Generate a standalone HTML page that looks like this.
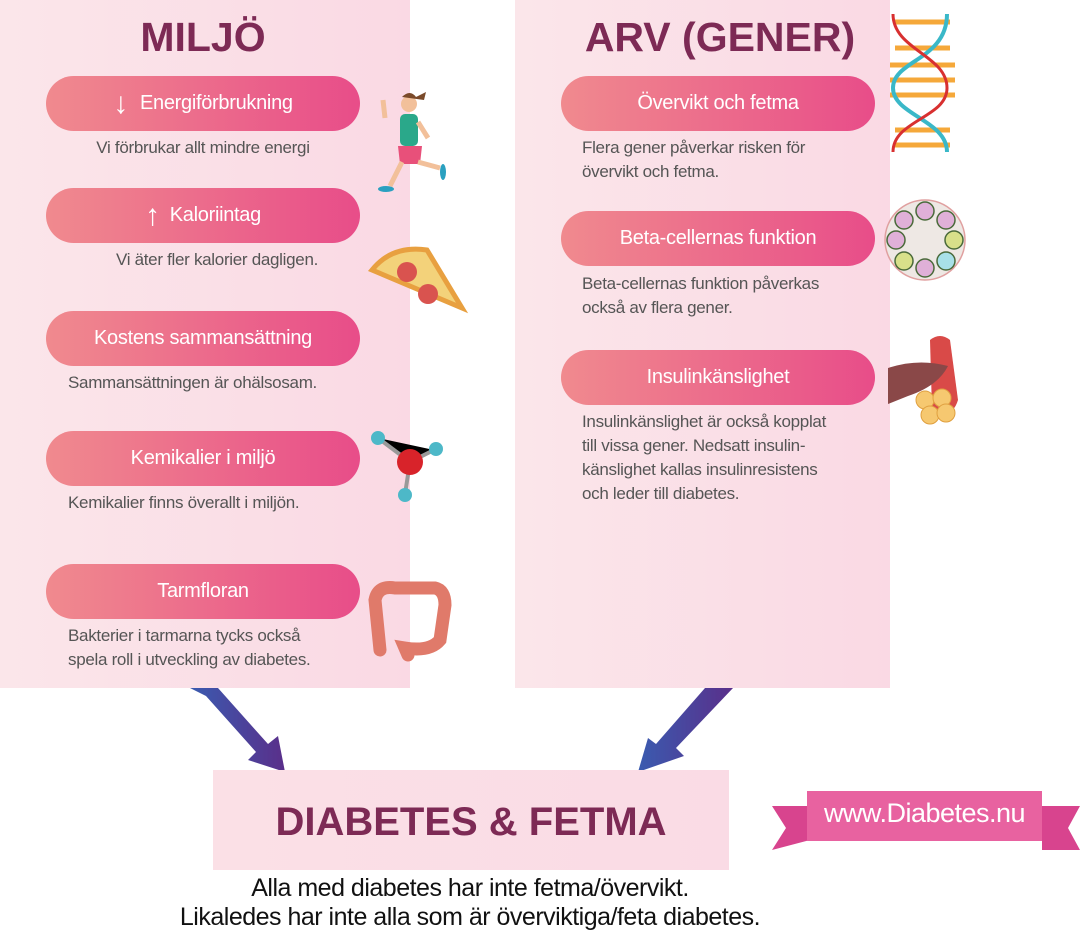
<!DOCTYPE html>
<html><head><meta charset="utf-8"><style>
*{margin:0;padding:0;box-sizing:border-box}
body{width:1080px;height:940px;background:#fff;position:relative;overflow:hidden;font-family:"Liberation Sans",sans-serif}
.panel{position:absolute;top:0;height:688px;background:linear-gradient(90deg,#fbe6ea,#fad9e4)}
.h{position:absolute;font-weight:bold;color:#7d2a55;text-align:center}
.pill{position:absolute;height:55px;border-radius:28px;background:linear-gradient(90deg,#f08a8e,#e84d89);color:#fff;font-size:20px;display:flex;align-items:center;justify-content:center;letter-spacing:-0.3px}
.d{position:absolute;color:#555;font-size:17px;line-height:24px;letter-spacing:-0.3px}
</style></head><body>
<div class="panel" style="left:0;width:410px"></div>
<div class="panel" style="left:515px;width:375px"></div>
<div class="h" style="left:98px;width:210px;top:14px;font-size:41px">MILJÖ</div>
<div class="h" style="left:560px;width:320px;top:14px;font-size:41px">ARV (GENER)</div>

<div class="pill" style="left:46px;top:76px;width:314px"><span style="font-size:30px;margin-right:12px">↓</span>Energiförbrukning</div>
<div class="d" style="left:46px;width:314px;top:136px;text-align:center">Vi förbrukar allt mindre energi</div>
<div class="pill" style="left:46px;top:188px;width:314px"><span style="font-size:30px;margin-right:10px">↑</span>Kaloriintag</div>
<div class="d" style="left:60px;width:314px;top:248px;text-align:center">Vi äter fler kalorier dagligen.</div>
<div class="pill" style="left:46px;top:311px;width:314px">Kostens sammansättning</div>
<div class="d" style="left:68px;top:371px">Sammansättningen är ohälsosam.</div>
<div class="pill" style="left:46px;top:431px;width:314px">Kemikalier i miljö</div>
<div class="d" style="left:68px;top:491px">Kemikalier finns överallt i miljön.</div>
<div class="pill" style="left:46px;top:564px;width:314px">Tarmfloran</div>
<div class="d" style="left:68px;top:624px">Bakterier i tarmarna tycks också<br>spela roll i utveckling av diabetes.</div>

<div class="pill" style="left:561px;top:76px;width:314px">Övervikt och fetma</div>
<div class="d" style="left:582px;top:136px">Flera gener påverkar risken för<br>övervikt och fetma.</div>
<div class="pill" style="left:561px;top:211px;width:314px">Beta-cellernas funktion</div>
<div class="d" style="left:582px;top:272px">Beta-cellernas funktion påverkas<br>också av flera gener.</div>
<div class="pill" style="left:561px;top:350px;width:314px">Insulinkänslighet</div>
<div class="d" style="left:582px;top:410px">Insulinkänslighet är också kopplat<br>till vissa gener. Nedsatt insulin-<br>känslighet kallas insulinresistens<br>och leder till diabetes.</div>

<svg width="1080" height="940" style="position:absolute;left:0;top:0">
<defs><linearGradient id="ag" x1="0" x2="1"><stop offset="0" stop-color="#3a5bb0"/><stop offset="1" stop-color="#5a2f8a"/></linearGradient></defs>
<circle cx="409" cy="104" r="8" fill="#f2c09a"/><path d="M402 97 q8-8 14 0 l10-5 -2 8z" fill="#7a4a2a"/>
<rect x="400" y="114" width="18" height="32" rx="5" fill="#2aa88a"/>
<path d="M398 146 h24 l-2 18 h-20z" fill="#e8507a"/>
<path d="M402 162 l-12 24 M418 162 l22 6" stroke="#f2c09a" stroke-width="5"/>
<path d="M385 118 l-2 -18 M418 122 l10 16" stroke="#f2c09a" stroke-width="5"/>
<ellipse cx="386" cy="189" rx="8" ry="3" fill="#2aa0c0"/><ellipse cx="443" cy="172" rx="3" ry="8" fill="#2aa0c0"/>
<path d="M372 270 q20-25 55-20 l35 58z" fill="#f3d27a" stroke="#e8a040" stroke-width="5"/>
<circle cx="407" cy="272" r="10" fill="#d9534f"/><circle cx="428" cy="294" r="10" fill="#d9534f"/>
<path d="M378 438 L410 462 L434 450 M410 462 L405 494" stroke="#999" stroke-width="4"/>
<circle cx="410" cy="462" r="13" fill="#d8232a"/>
<circle cx="378" cy="438" r="7" fill="#4db8c8"/><circle cx="436" cy="449" r="7" fill="#4db8c8"/><circle cx="405" cy="495" r="7" fill="#4db8c8"/>
<path d="M380 650 L375 600 Q378 585 395 588 L435 588 Q445 590 445 605 L440 640 Q430 652 405 648 L408 655" fill="none" stroke="#e07a6a" stroke-width="13" stroke-linecap="round"/>
<g stroke-width="5"><line x1="895" y1="22" x2="950" y2="22" stroke="#f5a83a"/><line x1="895" y1="48" x2="950" y2="48" stroke="#f5a83a"/><line x1="890" y1="65" x2="955" y2="65" stroke="#f5a83a"/><line x1="890" y1="80" x2="955" y2="80" stroke="#f5a83a"/><line x1="890" y1="95" x2="955" y2="95" stroke="#f5a83a"/><line x1="895" y1="130" x2="950" y2="130" stroke="#f5a83a"/><line x1="895" y1="145" x2="950" y2="145" stroke="#f5a83a"/></g>
<path d="M947 14 C947 60 893 60 893 88 C893 115 947 120 947 152" fill="none" stroke="#3ab8c8" stroke-width="4"/>
<path d="M893 14 C893 50 947 55 947 88 C947 118 893 120 893 152" fill="none" stroke="#d83030" stroke-width="3"/>
<circle cx="925" cy="240" r="40" fill="#eee8e4" stroke="#e0a0a0" stroke-width="1.5"/>
<g stroke="#4a6a3a" stroke-width="1.5"><circle cx="925" cy="211" r="9" fill="#e0b0d8"/><circle cx="946" cy="220" r="9" fill="#e0b0d8"/><circle cx="954" cy="240" r="9" fill="#d8e08a"/><circle cx="946" cy="261" r="9" fill="#a8e0e8"/><circle cx="925" cy="268" r="9" fill="#e0b0d8"/><circle cx="904" cy="261" r="9" fill="#d8e08a"/><circle cx="896" cy="240" r="9" fill="#e0b0d8"/><circle cx="904" cy="220" r="9" fill="#e0b0d8"/></g>
<path d="M930 340 q10-8 20 0 l8 60 q-6 20 -26 10z" fill="#d94a48"/>
<path d="M888 368 q30-10 60-2 q-10 20 -40 30 l-20 8z" fill="#8a4848"/>
<g fill="#f6c870" stroke="#e0a040"><circle cx="925" cy="400" r="9"/><circle cx="942" cy="398" r="9"/><circle cx="930" cy="415" r="9"/><circle cx="946" cy="413" r="9"/></g>
<path d="M190 688 L218 688 L268 744 L278 736 L285 772 L248 760 L256 752 L206 696Z" fill="url(#ag)"/>
<path d="M705 688 L733 688 L676 748 L684 756 L638 772 L648 738 L656 744Z" fill="url(#ag)"/>
<path d="M772 806 L810 806 L810 840 L772 850 L786 828Z" fill="#d8448e"/>
<path d="M1080 806 L1042 806 L1042 850 L1080 850 L1068 828Z" fill="#d8448e"/>
<rect x="807" y="791" width="235" height="50" fill="#e862a0"/>
</svg>
<div style="position:absolute;left:213px;top:770px;width:516px;height:100px;background:linear-gradient(90deg,#fbe0e6,#fadbe5)"></div>
<div class="h" style="left:213px;top:800px;width:516px;font-size:40px">DIABETES &amp; FETMA</div>
<div style="position:absolute;left:807px;top:798px;width:235px;text-align:center;color:#fff;font-size:27px;letter-spacing:-0.5px">www.Diabetes.nu</div>
<div style="position:absolute;left:60px;width:820px;top:874px;text-align:center;color:#111;font-size:25px;line-height:29px;letter-spacing:-0.5px">Alla med diabetes har inte fetma/övervikt.<br>Likaledes har inte alla som är överviktiga/feta diabetes.</div>
</body></html>
